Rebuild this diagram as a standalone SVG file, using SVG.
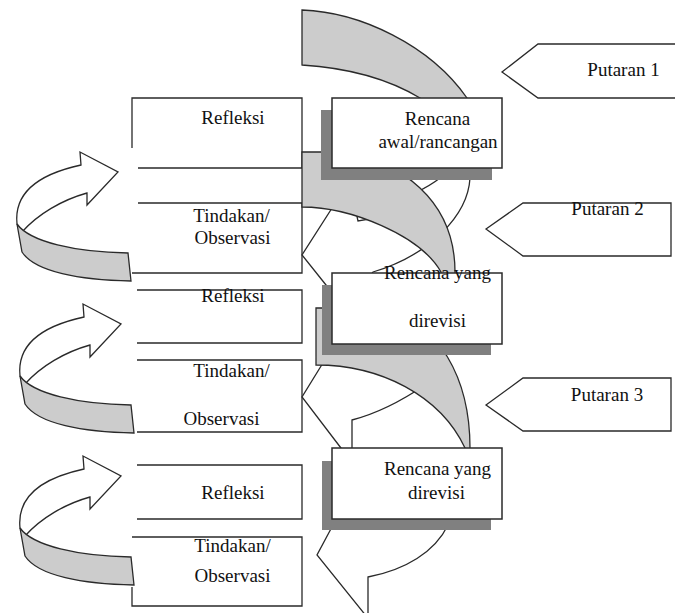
<svg xmlns="http://www.w3.org/2000/svg" xmlns:xlink="http://www.w3.org/1999/xlink" width="675" height="613" viewBox="0 0 675 613">
<style>
.ln{fill:none;stroke:#2a2a2a;stroke-width:1.3}
.wh{fill:#fff;stroke:#2a2a2a;stroke-width:1.3;stroke-linejoin:miter}
.gr{fill:#cccccc;stroke:#2a2a2a;stroke-width:1.3}
.sh{fill:#808080}
.bx{fill:#fff;stroke:#2a2a2a;stroke-width:1.5}
.pt{fill:#fff;stroke:#2a2a2a;stroke-width:1.3}
.t{font-family:"Liberation Serif","Times New Roman",serif;font-size:19px;fill:#111;text-anchor:middle}
</style>
<defs>
<g id="leftArrow">
<path class="wh" d="M81,165 L80,152 L118,172 L87,205 L87,193 C62,200 38,214 22,232 L17,224 C14,195 35,175 81,165 Z"/>
<path class="gr" d="M17,224 C30,242 75,252 128,253 L131,281 C80,280 35,272 22,252 Z"/>
</g>
</defs>
<rect width="675" height="613" fill="#fff"/>

<!-- left boxes -->
<g id="refleksi1">
<path class="ln" d="M132,148 V98 H302 V168 H138"/>
<text class="t" x="233" y="124">Refleksi</text>
</g>
<g id="tindakan1">
<path class="ln" d="M138,203 H302 V273 H132"/>
<text class="t" x="231.5" y="222">Tindakan/</text>
<text class="t" x="232.5" y="244">Observasi</text>
</g>
<g id="refleksi2">
<path class="ln" d="M137,290 H302 V343 H137"/>
<text class="t" x="233" y="302">Refleksi</text>
</g>
<g id="tindakan2">
<path class="ln" d="M137,360 H302 V432 H137"/>
<text class="t" x="231.5" y="377">Tindakan/</text>
<text class="t" x="221.5" y="425">Observasi</text>
</g>
<g id="refleksi3">
<path class="ln" d="M137,465 H302 V519 H137"/>
<text class="t" x="233" y="499">Refleksi</text>
</g>
<g id="tindakan3">
<path class="ln" d="M132,537 H302 V606 H132 V587"/>
<text class="t" x="232.5" y="552">Tindakan/</text>
<text class="t" x="232.5" y="582">Observasi</text>
</g>

<!-- connectors: curved arrows -->
<g id="connectors">
<use xlink:href="#leftArrow" href="#leftArrow"/>
<use xlink:href="#leftArrow" href="#leftArrow" transform="translate(3,152)"/>
<use xlink:href="#leftArrow" href="#leftArrow" transform="translate(3,304)"/>

<path class="gr" d="M302,10 C360,12 430,45 467,98 L476,125 L428,125 L420,98 C390,80 350,68 302,65 Z"/>
<path class="wh" d="M470,178 C468,215 430,255 373,272 L360,292 L330,290 L302,255 L334,205 L356,212 L358,221 L370,219 L372,212 C400,200 425,190 440,178 L440,170 L470,170 Z"/>
<path class="gr" d="M302,152 L340,152 C400,160 455,200 455,272 L455,290 L441,290 L441,272 C420,235 350,207 302,207 Z"/>

<path class="wh" d="M326,358 L302,397 L344,452 L352,452 L352,420 C375,414 400,402 425,385 L400,360 L330,350 Z"/>
<path class="gr" d="M316,308 L380,308 C440,320 470,380 470,448 L470,460 L465,460 L465,448 C440,395 380,365 316,365 Z"/>

<path class="wh" d="M333,525 L317,555 L367,617 L368,617 L368,577 C405,570 435,552 448,525 Z"/>
</g>

<!-- plan boxes -->
<g id="rencana1">
<rect class="sh" x="321" y="110" width="171" height="70"/>
<rect class="bx" x="332" y="98" width="170" height="70"/>
<text class="t" x="437.5" y="125">Rencana</text>
<text class="t" x="438" y="148">awal/rancangan</text>
</g>
<g id="rencana2">
<rect class="sh" x="322" y="285" width="169" height="70"/>
<rect class="bx" x="332" y="273" width="170" height="71"/>
<text class="t" x="437.5" y="279">Rencana yang</text>
<text class="t" x="437.5" y="327">direvisi</text>
</g>
<g id="rencana3">
<rect class="sh" x="322" y="461" width="169" height="69"/>
<rect class="bx" x="332" y="448" width="170" height="71"/>
<text class="t" x="437.5" y="475">Rencana yang</text>
<text class="t" x="436.5" y="499">direvisi</text>
</g>

<!-- cycle labels -->
<g id="putaran1">
<path class="pt" d="M680,44 H538 L502,72 L538,98 H680"/>
<text class="t" x="623.5" y="76">Putaran 1</text>
</g>
<g id="putaran2">
<path class="pt" d="M486,229 L523,203 H671 V256 H523 Z"/>
<text class="t" x="607.5" y="215">Putaran 2</text>
</g>
<g id="putaran3">
<path class="pt" d="M486,405 L523,378 H671 V431 H523 Z"/>
<text class="t" x="607" y="401">Putaran 3</text>
</g>
</svg>
